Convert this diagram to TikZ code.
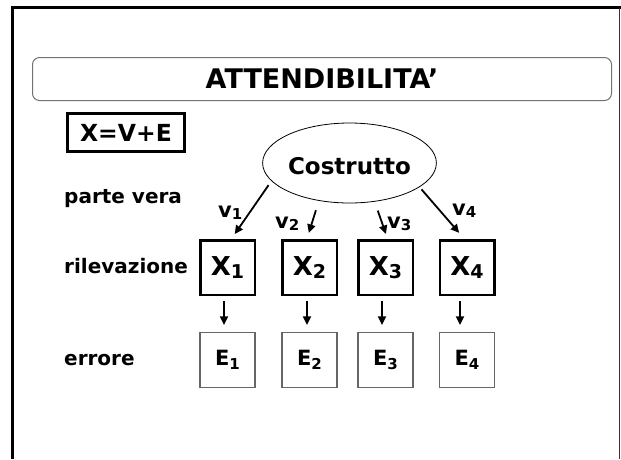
\documentclass[tikz,border=0pt]{standalone}
\usepackage{fontspec}
\setmainfont{DejaVu Sans}
\usetikzlibrary{arrows.meta,shapes.geometric}
\newcommand{\fs}[1]{\fontsize{#1}{#1}\selectfont\bfseries}
\newcommand{\subidx}[3]{\raisebox{-#3pt}{\fs{#2}#1}}

\begin{document}
\begin{tikzpicture}[x=1pt,y=-1pt,
  xbox/.style={draw,line width=2.5pt,minimum width=54.5pt,minimum height=54.5pt,inner sep=0pt,font=\fs{26}},
  ebox/.style={draw=black!60,line width=1.2pt,minimum width=55pt,minimum height=55pt,inner sep=0pt,font=\fs{21}},
  varrow/.style={line width=1.8pt,-{Triangle[length=8.5pt,width=8pt]}},
  lbl/.style={anchor=base west,inner sep=0pt,font=\fs{20}},
  vlbl/.style={anchor=base west,inner sep=0pt,font=\fs{21}}]
\useasboundingbox (0,0) rectangle (621,459);

% frame of the slide
\draw[line width=3pt] (12.5,459) -- (12.5,7.5) -- (621,7.5);
\draw[line width=1pt,black!80] (619.5,7.5) -- (619.5,459);

\node[draw=black!55,line width=1pt,rounded corners=7pt,minimum width=579pt,minimum height=43pt,font=\fs{27}] (title) at (322,79) {ATTENDIBILITA’};
\node[draw,line width=3pt,minimum width=117pt,minimum height=38pt,inner sep=0pt,font=\fs{23.5}] (eq) at (126,132.5) {X=V+E};
\node[ellipse,draw,line width=0.8pt,minimum width=169pt,minimum height=80pt,inner sep=0pt,text height=23pt,font=\fs{23}] (cons) at (349.5,163) {Costrutto};

\node[lbl] (vera) at (64,203) {parte vera};
\node[lbl] (ril) at (64,273) {rilevazione};
\node[lbl] (err) at (64,365) {errore};

% misure e errori
\foreach \i/\x/\dx in {1/227.5/-3.5,2/309.5/-2.5,3/385.5/-3.5,4/467/-7}{
  \node[xbox] (X\i) at (\x,267.5) {X\subidx{\i}{19}{3}};
  \node[ebox] (E\i) at (\x,360) {E\subidx{\i}{15}{4}};
  \draw[varrow,shorten <=5pt,shorten >=7pt] ([xshift=\dx]X\i.south) -- ([xshift=\dx]E\i.north);
}

\draw[varrow,shorten <=5pt,shorten >=6pt] (cons.193.4) -- ([xshift=3.8]X1.north);
\draw[varrow,shorten <=9.9pt,shorten >=6.4pt] (cons.231.4) -- ([xshift=-2.6]X2.north);
\draw[varrow,shorten <=9.5pt,shorten >=5.3pt] (cons.303.7) -- ([xshift=2.2]X3.north);
\draw[varrow,shorten <=3pt,shorten >=8.1pt] (cons.341.7) -- ([xshift=-2.5]X4.north);

\node[vlbl] (v1) at (218,217) {v\subidx{1}{15}{2}};
\node[vlbl] (v2) at (275,228) {v\subidx{2}{15}{2}};
\node[vlbl] (v3) at (387,228) {v\subidx{3}{15}{2}};
\node[vlbl] (v4) at (452,215) {v\subidx{4}{15}{2}};
\end{tikzpicture}
\end{document}
